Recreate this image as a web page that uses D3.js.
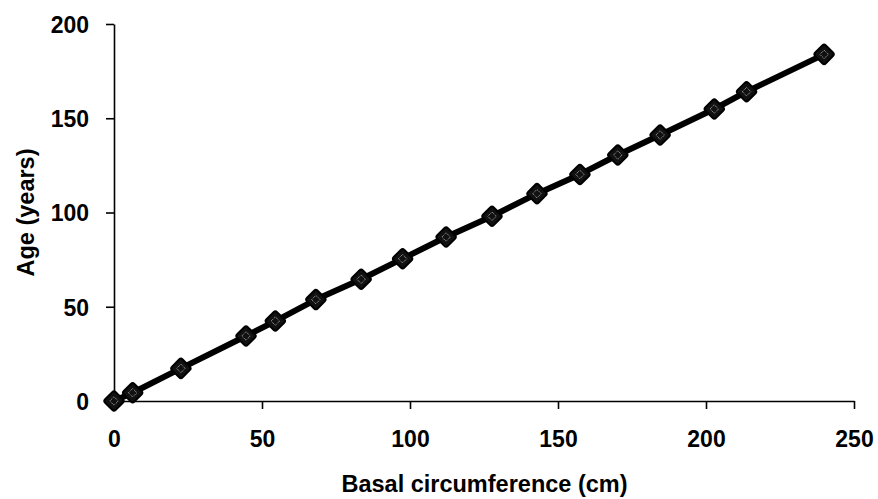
<!DOCTYPE html>
<html><head><meta charset="utf-8">
<script src="https://cdn.jsdelivr.net/npm/d3@7"></script>
<style>
body{margin:0;background:#fff;}
text{font-family:"Liberation Sans",Arial,sans-serif;fill:#000;}
</style></head>
<body><svg id="c" width="878" height="499"></svg>
<script>
const circumference = [0, 6.3, 22.6, 44.6, 54.5, 68.2, 83.5, 97.5, 112.2, 127.7, 142.9, 157.4, 170.2, 184.5, 202.8, 213.7, 239.9];
const age =           [0, 4.4, 17.3, 34.5, 42.4, 53.8, 64.6, 75.5, 87.0, 98.0, 110.0, 120.2, 130.5, 141.1, 154.9, 164.1, 183.9];
const xTicks = [0, 50, 100, 150, 200, 250];
const yTicks = [0, 50, 100, 150, 200];
const xTitle = "Basal circumference (cm)";
const yTitle = "Age (years)";

const svg = d3.select("#c");
const x = d3.scaleLinear().domain([0, 250]).range([114, 854]);
const y = d3.scaleLinear().domain([0, 200]).range([401, 24]);

const xa = svg.append("g").attr("transform", "translate(0,401)")
  .call(d3.axisBottom(x).tickValues(xTicks).tickSize(8).tickPadding(22).tickSizeOuter(0));
const ya = svg.append("g").attr("transform", "translate(114,0)")
  .call(d3.axisLeft(y).tickValues(yTicks).tickSize(8).tickPadding(17).tickSizeOuter(0));
[xa, ya].forEach(g => {
  g.selectAll("path,line").attr("stroke", "#000").attr("stroke-width", 1.6);
  g.selectAll("text").attr("font-size", 23).attr("font-family", "Liberation Sans, Arial, sans-serif").attr("font-weight", "bold").attr("fill", "#000");
});
ya.selectAll("text").attr("dy", "0.36em");

svg.append("text").attr("x", 484.5).attr("y", 491.5).attr("text-anchor", "middle")
  .attr("font-size", 23.5).attr("font-weight", "bold").text(xTitle);
svg.append("text").attr("transform", "translate(34,212.5) rotate(-90)").attr("text-anchor", "middle")
  .attr("font-size", 23.5).attr("font-weight", "bold").text(yTitle);

const pts = circumference.map((c, i) => [c, age[i]]);
svg.append("path").datum(pts)
  .attr("fill", "none").attr("stroke", "#000").attr("stroke-width", 6).attr("stroke-linejoin", "round")
  .attr("d", d3.line().x(d => x(d[0])).y(d => y(d[1])));

const m = svg.append("g").selectAll("g").data(pts).join("g")
  .attr("transform", d => `translate(${x(d[0])},${y(d[1])})`);
m.append("rect").attr("x", -7.5).attr("y", -7.5).attr("width", 15).attr("height", 15).attr("rx", 2.5)
  .attr("transform", "rotate(45)").attr("fill", "#111").attr("stroke", "#000").attr("stroke-width", 2);
m.append("rect").attr("x", -3).attr("y", -3).attr("width", 6).attr("height", 6)
  .attr("transform", "rotate(45)").attr("fill", "none").attr("stroke", "#bbb").attr("stroke-width", 0.9).attr("stroke-dasharray", "1,1");
</script></body></html>
